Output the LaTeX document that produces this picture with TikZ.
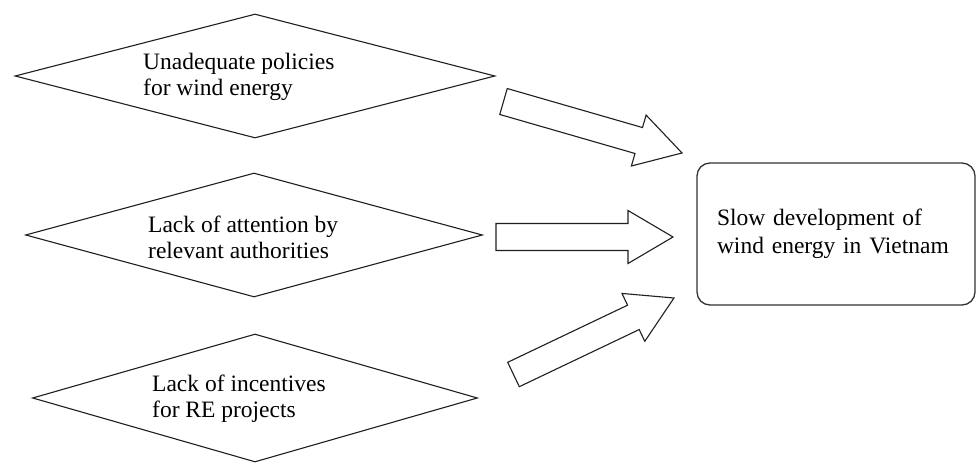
\documentclass[tikz,border=0pt]{standalone}
\usepackage{fontspec}
\setmainfont{Liberation Serif}
\usetikzlibrary{shapes.geometric,calc}

% hollow block arrow from coordinate #1 to coordinate #2
\newcommand\blockarrowto[2]{%
  \draw[blockarrow] let \p1=($(#2)-(#1)$), \n1={atan2(\y1,\x1)}, \n2={veclen(\x1,\y1)} in
    [shift={(#1)}, rotate=\n1]
    (0,-13.5) -- (\n2-45,-13.5) -- (\n2-45,-26.5) -- (\n2,0)
    -- (\n2-45,26.5) -- (\n2-45,13.5) -- (0,13.5) -- cycle;}

\begin{document}
\begin{tikzpicture}[x=1pt,y=1pt,
  cause/.style={diamond, draw=black!88, line width=1.1pt, inner sep=0pt, fill=white},
  causetext/.style={anchor=west, align=left, inner sep=0pt, font=\fontsize{23.5}{26}\selectfont},
  effect/.style={rectangle, rounded corners=13pt, draw=black!80, line width=1.3pt,
    minimum width=278pt, minimum height=142pt, text width=238pt, inner xsep=20pt,
    align=left, font=\fontsize{23.5}{28}\selectfont},
  blockarrow/.style={draw=black!88, line width=1.1pt, fill=white, line join=miter}]
\fill[white] (0,0) rectangle (976,463);
\useasboundingbox (0,0) rectangle (976,463);

% causes
\node[cause, minimum width=480pt, minimum height=124pt] (d1) at (255,387) {};
\node[cause, minimum width=457pt, minimum height=124pt] (d2) at (254,228) {};
\node[cause, minimum width=445pt, minimum height=128pt] (d3) at (255,65) {};

\node[causetext] (t1) at (143,386.5) {Unadequate policies\\for wind energy};
\node[causetext] (t2) at (148,226) {Lack of attention by\\relevant authorities};
\node[causetext] (t3) at (152,64) {Lack of incentives\\for RE projects};

% effect
\node[effect] (e) at (836,229) {Slow development of\\wind energy in Vietnam};

% block arrows
\coordinate (a1s) at (503.5,361.5); \coordinate (a1e) at (682,310);
\coordinate (a2s) at (496,226);     \coordinate (a2e) at (673,226);
\coordinate (a3s) at (513.5,88.5);  \coordinate (a3e) at (674,165);
\blockarrowto{a1s}{a1e}
\blockarrowto{a2s}{a2e}
\blockarrowto{a3s}{a3e}
\end{tikzpicture}
\end{document}
